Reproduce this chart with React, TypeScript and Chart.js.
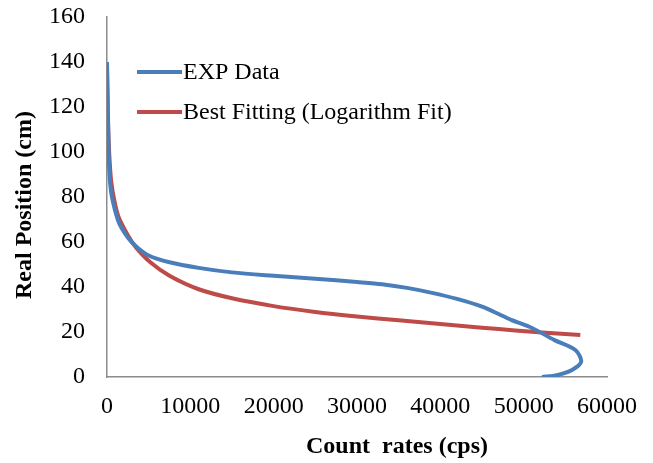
import React, { useEffect, useRef } from "react";
import { Chart, registerables } from "chart.js";

Chart.register(...registerables);

// EXP Data (count rate, position)
const expCounts = [0, 50, 100, 150, 200, 300, 500, 900, 1500, 2500, 3500, 5000, 7500, 11000, 15000, 20000, 25000, 30000, 33000, 36000, 39000, 42000, 45000, 47000, 48500, 51000, 53700, 56200, 56900, 55800, 54000, 52200];
const expPositions = [140, 130, 120, 110, 100, 90, 82, 75, 68, 62, 58, 54, 51, 48.5, 46.5, 45, 43.7, 42.2, 41.2, 39.6, 37.4, 34.7, 31.3, 28, 25.4, 21.8, 16.4, 12, 6.8, 3.1, 0.8, 0];

// Best Fitting (Logarithm Fit)
const fitCounts = [0, 50, 100, 200, 300, 500, 900, 1400, 2500, 3500, 5200, 7500, 11000, 15000, 20000, 25000, 30000, 35000, 41000, 45000, 49000, 52200, 56800];
const fitPositions = [137, 125, 115, 105, 97, 87, 78, 71, 63, 57.5, 51, 45, 39, 35, 31.5, 28.9, 26.9, 25.2, 23.2, 21.9, 20.7, 19.8, 18.7];

const seriesNames = ["EXP Data", "Best Fitting (Logarithm Fit)"];
const seriesColors = ["#4A7EBB", "#BE4B48"];
const xTitle = "Count  rates (cps)";
const yTitle = "Real Position (cm)";

const FONT = "'Liberation Serif', 'Times New Roman', serif";

export default function App() {
  const ref = useRef<HTMLCanvasElement | null>(null);
  useEffect(() => {
    if (!ref.current) return;
    const overlay = {
      id: "overlay",
      afterDraw(chart: any) {
        const ctx = chart.ctx;
        ctx.save();
        ctx.fillStyle = "#000";
        ctx.font = `bold 24px ${FONT}`;
        ctx.textAlign = "center";
        ctx.textBaseline = "middle";
        ctx.fillText(xTitle, 397, 447);
        ctx.translate(25, 205);
        ctx.rotate(-Math.PI / 2);
        ctx.fillText(yTitle, 0, 0);
        ctx.restore();
        ctx.save();
        ctx.font = `24px ${FONT}`;
        ctx.textAlign = "left";
        ctx.textBaseline = "middle";
        const ys = [72, 112];
        seriesNames.forEach((n, i) => {
          ctx.strokeStyle = seriesColors[i];
          ctx.lineWidth = 4;
          ctx.beginPath();
          ctx.moveTo(137, ys[i]);
          ctx.lineTo(182, ys[i]);
          ctx.stroke();
          ctx.fillStyle = "#000";
          ctx.fillText(n, 183, ys[i] + 1);
        });
        ctx.restore();
      },
    };
    const chart = new Chart(ref.current, {
      type: "scatter",
      data: {
        datasets: [
          {
            label: seriesNames[0],
            data: expCounts.map((x, i) => ({ x, y: expPositions[i] })),
            showLine: true,
            borderColor: seriesColors[0],
            borderWidth: 4,
            pointRadius: 0,
            tension: 0.3,
          },
          {
            label: seriesNames[1],
            data: fitCounts.map((x, i) => ({ x, y: fitPositions[i] })),
            showLine: true,
            borderColor: seriesColors[1],
            borderWidth: 4,
            pointRadius: 0,
            tension: 0.3,
          },
        ],
      },
      options: {
        animation: false,
        responsive: true,
        maintainAspectRatio: false,
        layout: { padding: { top: 17, right: 46, left: 0, bottom: 0 } },
        plugins: { legend: { display: false }, tooltip: { enabled: false } },
        scales: {
          x: {
            type: "linear",
            min: 0,
            max: 60000,
            grid: { display: false, drawTicks: false, tickLength: 0 },
            border: { display: true, color: "#8C8C8C", width: 1.5 },
            ticks: {
              stepSize: 10000,
              padding: 15,
              color: "#000",
              font: { family: FONT, size: 24 },
              maxRotation: 0,
              callback: (v: any) => String(v),
            },
            afterFit: (s: any) => {
              s.height = 86;
              s.paddingLeft = 0;
              s.paddingRight = 0;
            },
          },
          y: {
            type: "linear",
            min: 0,
            max: 160,
            grid: { display: false, drawTicks: false, tickLength: 0 },
            border: { display: true, color: "#8C8C8C", width: 1.5 },
            ticks: {
              stepSize: 20,
              padding: 22,
              color: "#000",
              font: { family: FONT, size: 24 },
            },
            afterFit: (s: any) => {
              s.width = 107;
              s.paddingTop = 0;
              s.paddingBottom = 0;
            },
          },
        },
      },
      plugins: [overlay],
    });
    return () => chart.destroy();
  }, []);
  return (
    <div style={{ position: "fixed", left: 0, top: 0, width: 653, height: 463, background: "#fff" }}>
      <canvas ref={ref} />
    </div>
  );
}
